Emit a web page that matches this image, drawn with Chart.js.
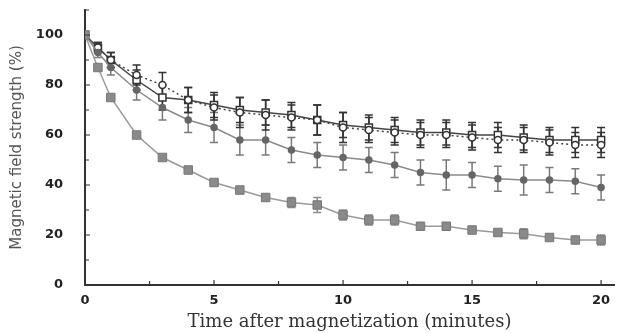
<!DOCTYPE html>
<html>
<head>
<meta charset="utf-8">
<script src="https://cdn.jsdelivr.net/npm/chart.js@4"></script>
<style>
  body { margin: 0; background: #fff; }
  #wrap { width: 618px; height: 333px; }
</style>
</head>
<body>
<div id="wrap"><canvas id="chart"></canvas></div>
<script>
// DATA
const minutes = [0, 0.5, 1, 2, 3, 4, 5, 6, 7, 8, 9, 10, 11, 12, 13, 14, 15, 16, 17, 18, 19, 20];
const openSquare = [100, 95, 90, 82, 75, 74, 72, 70, 69, 68, 66, 64, 63, 62, 61, 61, 60, 60, 59, 58, 58, 58];
const openSquareErr = [0, 2, 3, 4, 5, 5, 5, 5, 5, 5, 6, 5, 5, 5, 5, 5, 5, 5, 5, 5, 5, 5];
const openCircle = [100, 95, 90, 84, 80, 74, 71, 69, 68, 67, 66, 63, 62, 61, 60, 60, 59, 58, 58, 57, 56, 56];
const openCircleErr = [0, 2, 3, 4, 5, 5, 5, 6, 6, 5, 6, 6, 5, 5, 5, 5, 5, 5, 5, 5, 5, 5];
const plusSeries = [100, 93, 87, 78, 71, 66, 63, 58, 58, 54, 52, 51, 50, 48, 45, 44, 44, 42.5, 42, 42, 41.5, 39];
const plusErr = [0, 2, 3, 4, 5, 5, 6, 6, 6, 5, 5, 5, 5, 5, 5, 6, 5, 5, 6, 5, 5, 5];
const filledSquare = [100, 87, 75, 60, 51, 46, 41, 38, 35, 33, 32, 28, 26, 26, 23.5, 23.5, 22, 21, 20.5, 19, 18, 18];
const filledSquareErr = [0, 1, 1, 1, 1, 1, 1, 1, 1, 2, 3, 2, 2, 2, 1, 1, 1, 1, 2, 1, 1, 2];
const xTicks = [0, 5, 10, 15, 20];
const yTicks = [0, 20, 40, 60, 80, 100];

const toPoints = (vals) => minutes.map((m, i) => ({ x: m, y: vals[i] }));

// ERROR BARS
const errorBars = {
  id: "errorBars",
  beforeDatasetsDraw(chart) {
    const { ctx, scales } = chart;
    chart.data.datasets.forEach((ds) => {
      if (!ds.err) return;
      ctx.save();
      ctx.strokeStyle = ds.errColor;
      ctx.lineWidth = 1.5;
      ds.data.forEach((p, i) => {
        const e = ds.err[i];
        if (!e) return;
        const x = scales.x.getPixelForValue(p.x);
        const y1 = scales.y.getPixelForValue(p.y - e);
        const y2 = scales.y.getPixelForValue(p.y + e);
        ctx.beginPath();
        ctx.moveTo(x, y1); ctx.lineTo(x, y2);
        ctx.moveTo(x - 4, y1); ctx.lineTo(x + 4, y1);
        ctx.moveTo(x - 4, y2); ctx.lineTo(x + 4, y2);
        ctx.stroke();
      });
      ctx.restore();
    });
  },
};

// TICKS POINTING INWARD
const innerTicks = {
  id: "innerTicks",
  afterDraw(chart) {
    const { ctx, scales, chartArea } = chart;
    ctx.save();
    ctx.strokeStyle = "#333";
    ctx.lineWidth = 1.2;
    ctx.beginPath();
    for (let v = 0; v <= 110; v += 10) {
      const y = scales.y.getPixelForValue(v);
      ctx.moveTo(chartArea.left, y);
      ctx.lineTo(chartArea.left + (v % 20 === 0 ? 5 : 4), y);
    }
    for (let v = 0; v <= 20; v += 2.5) {
      const x = scales.x.getPixelForValue(v);
      ctx.moveTo(x, chartArea.bottom);
      ctx.lineTo(x, chartArea.bottom - (v % 5 === 0 ? 5 : 4));
    }
    ctx.stroke();
    ctx.restore();
  },
};

const tickFont = { family: "DejaVu Sans", size: 13, weight: "bold" };

new Chart(document.getElementById("chart"), {
  type: "line",
  data: {
    datasets: [
      {
        data: toPoints(filledSquare),
        err: filledSquareErr,
        errColor: "#8c8c8c",
        borderColor: "#9a9a9a",
        borderWidth: 1.5,
        pointStyle: "rect",
        pointRadius: 6,
        pointBackgroundColor: "#8a8a8a",
        pointBorderColor: "#777",
        pointBorderWidth: 1,
      },
      {
        data: toPoints(plusSeries),
        err: plusErr,
        errColor: "#7a7a7a",
        borderColor: "#8a8a8a",
        borderWidth: 1.5,
        pointStyle: "circle",
        pointRadius: 3,
        pointBackgroundColor: "#666",
        pointBorderColor: "#666",
      },
      {
        data: toPoints(openCircle),
        err: openCircleErr,
        errColor: "#333",
        borderColor: "#444",
        borderWidth: 1.5,
        borderDash: [2, 3],
        pointStyle: "circle",
        pointRadius: 3.5,
        pointBackgroundColor: "#fff",
        pointBorderColor: "#333",
        pointBorderWidth: 1.5,
      },
      {
        data: toPoints(openSquare),
        err: openSquareErr,
        errColor: "#333",
        borderColor: "#444",
        borderWidth: 1.5,
        pointStyle: "rect",
        pointRadius: 5,
        pointBackgroundColor: "#fff",
        pointBorderColor: "#333",
        pointBorderWidth: 1.5,
      },
    ],
  },
  options: {
    responsive: true,
    maintainAspectRatio: false,
    animation: false,
    events: [],
    layout: { autoPadding: false, padding: { top: 10, right: 4, left: 0, bottom: 0 } },
    plugins: { legend: { display: false }, tooltip: { enabled: false } },
    scales: {
      x: {
        type: "linear",
        min: 0,
        max: 20.5,
        afterFit: (s) => { s.height = 48; s.paddingLeft = 0; s.paddingRight = 0; },
        grid: { display: false },
        border: { display: true, color: "#333", width: 2 },
        afterBuildTicks: (s) => { s.ticks = xTicks.map((v) => ({ value: v })); },
        ticks: { autoSkip: false, maxRotation: 0, padding: 0, color: "#222", font: tickFont },
        title: {
          display: true,
          text: "Time after magnetization (minutes)",
          color: "#333",
          font: { family: "DejaVu Serif", size: 18 },
          padding: { bottom: 0 },
        },
      },
      y: {
        min: 0,
        max: 110,
        afterFit: (s) => { s.width = 85; s.paddingTop = 0; s.paddingBottom = 0; },
        grid: { display: false },
        border: { display: true, color: "#333", width: 2 },
        afterBuildTicks: (s) => { s.ticks = yTicks.map((v) => ({ value: v })); },
        ticks: { autoSkip: false, padding: 14, color: "#222", font: tickFont },
        title: {
          display: true,
          text: "Magnetic field strength (%)",
          color: "#555",
          font: { family: "DejaVu Sans", size: 15 },
          padding: { top: 8 },
        },
      },
    },
  },
  plugins: [errorBars, innerTicks],
});
</script>
</body>
</html>
